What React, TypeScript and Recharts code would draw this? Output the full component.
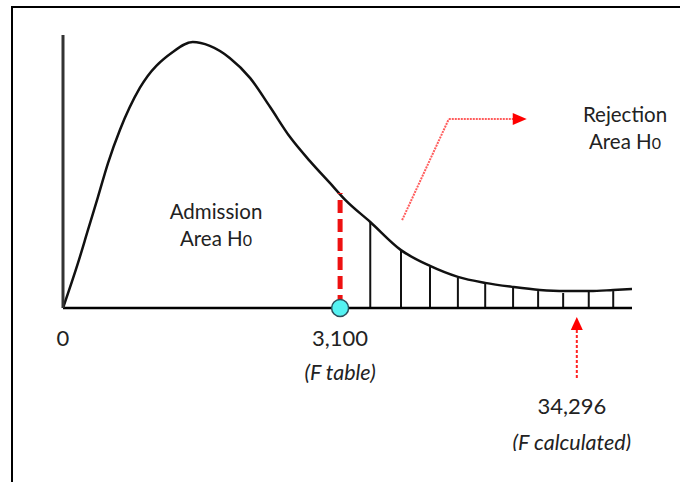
import React from "react";
import {
  ComposedChart,
  Line,
  XAxis,
  YAxis,
  ReferenceLine,
  ReferenceDot,
} from "recharts";

document.body.style.margin = "0";

// F distribution curve (schematic units, x 0..100, density 0..100)
const curveX = [0, 2.64, 4.39, 6.15, 7.91, 10.0, 13.5, 19.3, 22.8, 25.8, 29.3, 32.9, 36.4, 39.9, 43.4, 46.9, 49.6, 54.0, 59.4, 64.5, 69.4, 74.2, 79.1, 83.8, 88.2, 92.6, 96.7, 100];
const curveY = [0, 16.5, 28.6, 40.7, 53.1, 65.2, 80.6, 93.8, 97.4, 96.0, 91.6, 84.2, 73.6, 62.6, 53.8, 45.8, 39.6, 31.5, 21.2, 15.4, 11.4, 9.2, 7.7, 6.6, 6.2, 6.2, 6.6, 7.0];

// hatching of the rejection area
const hatchX = [54.0, 59.4, 64.5, 69.4, 74.2, 79.1, 83.5, 87.9, 92.4, 96.7];
const hatchTop = [31.5, 20.9, 15.0, 11.0, 9.5, 7.7, 6.2, 5.5, 6.2, 6.2];

// critical values
const fTable = 48.7;
const fTableHeight = 42.1;
const fCalc = 90.3;
const tickValues = [0, fTable, fCalc];
const tickLabels = ["0", "3,100", "34,296"];
const tickNotes = ["", "(F table)", "(F calculated)"];

// dotted pointer towards "Rejection Area"
const pointerX = [59.6, 67.8, 79.1];
const pointerY = [32.2, 69.2, 69.2];

const data = curveX.map((x, i) => ({ x, y: curveY[i] }));

const font = "Lato, 'Open Sans', sans-serif";
const textColor = "#222";

function FTick(props: any) {
  const { x, payload } = props;
  const y = 308;
  const i = tickValues.indexOf(payload.value);
  if (i < 0) return null;
  const low = i === 2;
  const tx = x + (low ? -5 : 0);
  return (
    <g>
      <text x={tx} y={y + (low ? 106 : 38)} textAnchor="middle" fontSize={22} fontFamily={font} fill={textColor}>
        {tickLabels[i]}
      </text>
      {tickNotes[i] && (
        <text x={tx} y={y + (low ? 142 : 72)} textAnchor="middle" fontSize={21.5} fontStyle="italic" fontFamily={font} fill={textColor}>
          {tickNotes[i]}
        </text>
      )}
    </g>
  );
}

const upArrow = (p: any) => (
  <path d={`M${p.cx},${p.cy} L${p.cx - 6},${p.cy + 13} L${p.cx + 6},${p.cy + 13} Z`} fill="#ff0000" />
);
const rightArrow = (p: any) => (
  <path d={`M${p.cx},${p.cy} L${p.cx - 14},${p.cy - 6} L${p.cx - 14},${p.cy + 6} Z`} fill="#ff0000" />
);

function AreaLabel({ x, y, first }: { x: number; y: number; first: string }) {
  return (
    <text x={x} y={y} textAnchor="middle" fontSize={20.5} fontFamily={font} fill={textColor}>
      <tspan x={x}>{first}</tspan>
      <tspan x={x} dy={27}>
        Area H<tspan fontSize={16}>0</tspan>
      </tspan>
    </text>
  );
}

export default function App() {
  return (
    <div style={{ position: "relative", width: 680, height: 482, background: "#fff", overflow: "hidden" }}>
      <ComposedChart
        width={680}
        height={482}
        data={data}
        margin={{ top: 35, right: 48, bottom: 164, left: 53 }}
      >
        <XAxis
          dataKey="x"
          type="number"
          domain={[0, 100]}
          ticks={tickValues}
          tick={<FTick />}
          tickLine={false}
          tickSize={0}
          tickMargin={0}
          height={10}
          interval={0}
          axisLine={{ stroke: "#000", strokeWidth: 2.5 }}
        />
        <YAxis
          type="number"
          domain={[0, 100]}
          width={10}
          tick={false}
          tickLine={false}
          axisLine={{ stroke: "#333", strokeWidth: 3 }}
        />
        {hatchX.map((hx, i) => (
          <ReferenceLine
            key={hx}
            segment={[{ x: hx, y: 0 }, { x: hx, y: hatchTop[i] }]}
            stroke="#111"
            strokeWidth={2}
          />
        ))}
        <Line
          dataKey="y"
          type="monotone"
          stroke="#111"
          strokeWidth={2.5}
          dot={false}
          isAnimationActive={false}
        />
        <ReferenceLine
          segment={[{ x: fTable, y: 0 }, { x: fTable, y: fTableHeight }]}
          stroke="#ee1111"
          strokeWidth={5}
          strokeDasharray="13 6"
        />
        <ReferenceLine
          segment={[{ x: pointerX[0], y: pointerY[0] }, { x: pointerX[1], y: pointerY[1] }]}
          stroke="#ff3333"
          strokeWidth={2}
          strokeDasharray="2 1"
          strokeOpacity={0.8}
        />
        <ReferenceLine
          segment={[{ x: pointerX[1], y: pointerY[1] }, { x: pointerX[2], y: pointerY[2] }]}
          stroke="#ff3333"
          strokeWidth={2}
          strokeDasharray="2 1"
          strokeOpacity={0.8}
        />
        <ReferenceDot x={81.5} y={pointerY[2]} r={1} shape={rightArrow} ifOverflow="visible" />
        <ReferenceLine
          segment={[{ x: fCalc, y: -8.1 }, { x: fCalc, y: -25.6 }]}
          stroke="#ff2222"
          strokeWidth={2}
          strokeDasharray="3 2"
          ifOverflow="visible"
        />
        <ReferenceDot x={fCalc} y={-3.3} r={1} shape={upArrow} ifOverflow="visible" />
        <ReferenceDot
          x={fTable}
          y={0}
          r={8.5}
          fill="#55f2f2"
          stroke="#2b4f5c"
          strokeWidth={1.5}
          ifOverflow="visible"
        />
      </ComposedChart>
      <svg width={680} height={482} style={{ position: "absolute", left: 0, top: 0, pointerEvents: "none" }}>
        <AreaLabel x={216} y={219} first="Admission" />
        <AreaLabel x={625} y={122} first="Rejection" />
        <rect x={500} y={451} width={150} height={10} fill="#fff" />
      </svg>
      <div
        style={{
          position: "absolute",
          left: 11,
          top: 6,
          right: -10,
          bottom: -10,
          borderTop: "2.5px solid #000",
          borderLeft: "2.5px solid #000",
          pointerEvents: "none",
        }}
      />
    </div>
  );
}
